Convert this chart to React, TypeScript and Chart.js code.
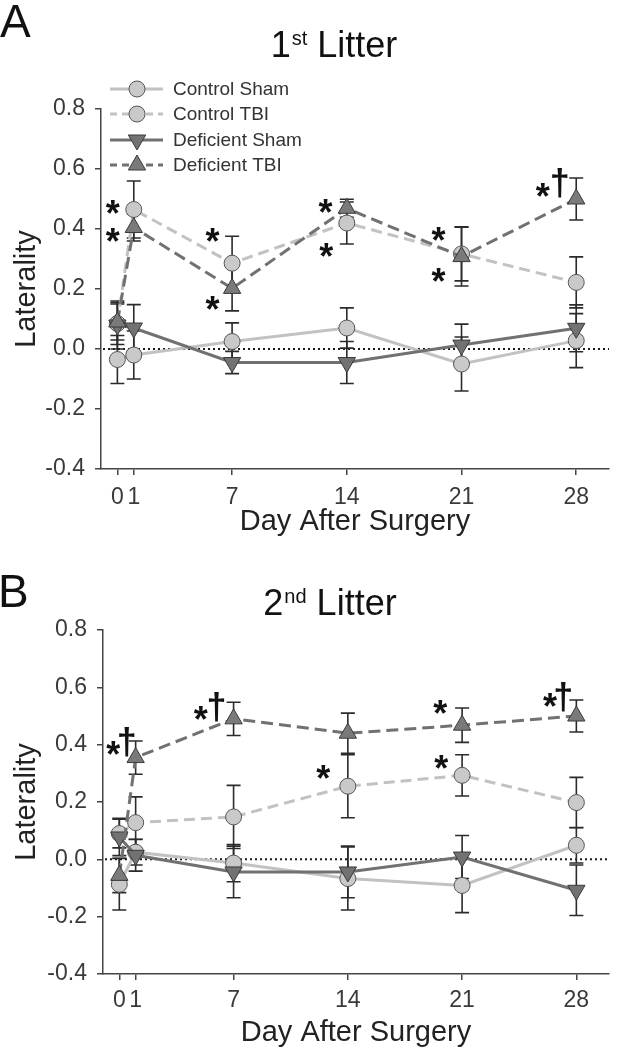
import React, { useEffect, useRef } from 'react';
import { Chart, registerables } from 'chart.js';

Chart.register(...registerables);

// ---------- data ----------
const DAYS = [0, 1, 7, 14, 21, 28];
const X_TICKS = [0, 1, 7, 14, 21, 28];
const Y_MIN = -0.4;
const Y_MAX = 0.8;
const Y_STEP = 0.2;
const SERIES_NAMES = ['Control Sham', 'Control TBI', 'Deficient Sham', 'Deficient TBI'];
const X_TITLE = 'Day After Surgery';
const Y_TITLE = 'Laterality';

// Panel A (1st Litter): mean and SEM
const A_CONTROL_SHAM = [-0.035, -0.02, 0.025, 0.07, -0.05, 0.028];
const A_CONTROL_SHAM_ERR = [0.08, 0.08, 0.062, 0.067, 0.09, 0.09];
const A_CONTROL_TBI = [0.085, 0.465, 0.286, 0.42, 0.317, 0.222];
const A_CONTROL_TBI_ERR = [0.07, 0.095, 0.09, 0.07, 0.09, 0.085];
const A_DEFICIENT_SHAM = [0.08, 0.07, -0.045, -0.045, 0.013, 0.069];
const A_DEFICIENT_SHAM_ERR = [0.08, 0.078, 0.037, 0.07, 0.07, 0.078];
const A_DEFICIENT_TBI = [0.09, 0.405, 0.202, 0.469, 0.308, 0.5];
const A_DEFICIENT_TBI_ERR = [0.06, 0.045, 0.075, 0.03, 0.098, 0.07];
const A_MARKS = [
  { day: -0.29, value: 0.473, text: '*' },
  { day: -0.29, value: 0.38, text: '*' },
  { day: 5.8, value: 0.38, text: '*' },
  { day: 5.8, value: 0.153, text: '*' },
  { day: 12.7, value: 0.477, text: '*' },
  { day: 12.75, value: 0.33, text: '*' },
  { day: 19.6, value: 0.383, text: '*' },
  { day: 19.6, value: 0.247, text: '*' },
  { day: 25.96, value: 0.53, text: '*' },
  { day: 27.0, value: 0.553, text: '†' },
];

// Panel B (2nd Litter): mean and SEM
const B_CONTROL_SHAM = [-0.087, 0.025, -0.013, -0.067, -0.091, 0.049];
const B_CONTROL_SHAM_ERR = [0.09, 0.045, 0.065, 0.11, 0.095, 0.062];
const B_CONTROL_TBI = [0.09, 0.128, 0.148, 0.255, 0.293, 0.198];
const B_CONTROL_TBI_ERR = [0.05, 0.09, 0.11, 0.11, 0.072, 0.088];
const B_DEFICIENT_SHAM = [0.078, 0.014, -0.044, -0.044, 0.008, -0.108];
const B_DEFICIENT_SHAM_ERR = [0.065, 0.055, 0.09, 0.09, 0.075, 0.088];
const B_DEFICIENT_TBI = [-0.056, 0.355, 0.49, 0.44, 0.468, 0.5];
const B_DEFICIENT_TBI_ERR = [0.06, 0.058, 0.058, 0.07, 0.06, 0.056];
const B_MARKS = [
  { day: -0.37, value: 0.387, text: '*' },
  { day: 0.45, value: 0.41, text: '†' },
  { day: 4.99, value: 0.511, text: '*' },
  { day: 5.95, value: 0.532, text: '†' },
  { day: 12.5, value: 0.305, text: '*' },
  { day: 19.66, value: 0.532, text: '*' },
  { day: 19.72, value: 0.34, text: '*' },
  { day: 26.39, value: 0.555, text: '*' },
  { day: 27.2, value: 0.567, text: '†' },
];

// ---------- styles ----------
const FONT = '"Liberation Sans", Arial, Helvetica, sans-serif';
const STYLES = [
  { line: '#c2c2c2', dash: [], legendDash: [], fill: '#c9c9c9', stroke: '#555555', point: 'circle', rotation: 0, radius: 8 },
  { line: '#c2c2c2', dash: [11, 6], legendDash: [7, 5], fill: '#c9c9c9', stroke: '#555555', point: 'circle', rotation: 0, radius: 8 },
  { line: '#717171', dash: [], legendDash: [], fill: '#727272', stroke: '#3a3a3a', point: 'triangle', rotation: 180, radius: 10 },
  { line: '#717171', dash: [12, 6], legendDash: [7, 5], fill: '#7a7a7a', stroke: '#3a3a3a', point: 'triangle', rotation: 0, radius: 10 },
];

const PANEL_A = {
  series: [A_CONTROL_SHAM, A_CONTROL_TBI, A_DEFICIENT_SHAM, A_DEFICIENT_TBI],
  errors: [A_CONTROL_SHAM_ERR, A_CONTROL_TBI_ERR, A_DEFICIENT_SHAM_ERR, A_DEFICIENT_TBI_ERR],
  marks: A_MARKS,
  letter: 'A',
  titleNum: '1',
  titleSup: 'st',
  titleRest: ' Litter',
  legend: true,
  layout: { top: 0, height: 545, padTop: 109, padRight: 5, yWidth: 101, xHeight: 76, tickPad: 9, titlePadBottom: 6, letterX: 0, letterBaseline: 37, titleCenter: 334, titleBaseline: 57 },
};

const PANEL_B = {
  series: [B_CONTROL_SHAM, B_CONTROL_TBI, B_DEFICIENT_SHAM, B_DEFICIENT_TBI],
  errors: [B_CONTROL_SHAM_ERR, B_CONTROL_TBI_ERR, B_DEFICIENT_SHAM_ERR, B_DEFICIENT_TBI_ERR],
  marks: B_MARKS,
  letter: 'B',
  titleNum: '2',
  titleSup: 'nd',
  titleRest: ' Litter',
  legend: false,
  layout: { top: 545, height: 505, padTop: 85, padRight: 10, yWidth: 103, xHeight: 76, tickPad: 7, titlePadBottom: 0, letterX: -2, letterBaseline: 62, titleCenter: 330, titleBaseline: 70 },
};

function drawMarker(ctx: CanvasRenderingContext2D, st: any, cx: number, cy: number) {
  ctx.beginPath();
  if (st.point === 'circle') {
    ctx.arc(cx, cy, st.radius, 0, Math.PI * 2);
  } else {
    const rot = (st.rotation * Math.PI) / 180;
    for (let k = 0; k < 3; k++) {
      const a = rot + (k * 2 * Math.PI) / 3;
      const px = cx + Math.sin(a) * st.radius;
      const py = cy - Math.cos(a) * st.radius;
      if (k === 0) ctx.moveTo(px, py);
      else ctx.lineTo(px, py);
    }
    ctx.closePath();
  }
  ctx.fillStyle = st.fill;
  ctx.fill();
  ctx.lineWidth = 1;
  ctx.strokeStyle = st.stroke;
  ctx.stroke();
}

function makePlugin(panel: any) {
  const L = panel.layout;
  return {
    id: 'panelDecor',
    beforeDatasetsDraw(chart: any) {
      const { ctx, chartArea, scales } = chart;
      const x = scales.x;
      const y = scales.y;
      ctx.save();
      // dotted zero line
      const y0 = y.getPixelForValue(0);
      ctx.strokeStyle = '#1a1a1a';
      ctx.lineWidth = 2;
      ctx.setLineDash([2, 3]);
      ctx.beginPath();
      ctx.moveTo(chartArea.left + 2, y0);
      ctx.lineTo(chartArea.right, y0);
      ctx.stroke();
      ctx.setLineDash([]);
      // error bars
      ctx.strokeStyle = '#2b2b2b';
      ctx.lineWidth = 1.6;
      panel.series.forEach((vals: number[], i: number) => {
        const errs = panel.errors[i];
        vals.forEach((v: number, j: number) => {
          const px = x.getPixelForValue(DAYS[j]);
          const pt = y.getPixelForValue(v + errs[j]);
          const pb = y.getPixelForValue(v - errs[j]);
          ctx.beginPath();
          ctx.moveTo(px, pt);
          ctx.lineTo(px, pb);
          ctx.moveTo(px - 7, pt);
          ctx.lineTo(px + 7, pt);
          ctx.moveTo(px - 7, pb);
          ctx.lineTo(px + 7, pb);
          ctx.stroke();
        });
      });
      ctx.restore();
    },
    afterDraw(chart: any) {
      const { ctx, scales } = chart;
      const x = scales.x;
      const y = scales.y;
      ctx.save();
      // panel letter
      ctx.fillStyle = '#111';
      ctx.textAlign = 'left';
      ctx.textBaseline = 'alphabetic';
      ctx.font = `46px ${FONT}`;
      ctx.fillText(panel.letter, L.letterX, L.letterBaseline);
      // title with superscript
      const big = `36px ${FONT}`;
      const small = `20px ${FONT}`;
      ctx.font = big;
      const w1 = ctx.measureText(panel.titleNum).width;
      const wR = ctx.measureText(panel.titleRest).width;
      ctx.font = small;
      const wS = ctx.measureText(panel.titleSup).width;
      const start = L.titleCenter - (w1 + wS + 1 + wR) / 2;
      ctx.font = big;
      ctx.fillText(panel.titleNum, start, L.titleBaseline);
      ctx.font = small;
      ctx.fillText(panel.titleSup, start + w1 + 1, L.titleBaseline - 12);
      ctx.font = big;
      ctx.fillText(panel.titleRest, start + w1 + 1 + wS, L.titleBaseline);
      // significance marks
      ctx.fillStyle = '#111';
      ctx.textAlign = 'center';
      panel.marks.forEach((m: any) => {
        ctx.font = m.text === '*' ? `bold 36px ${FONT}` : `bold 36px ${FONT}`;
        const mt = ctx.measureText(m.text);
        const px = x.getPixelForValue(m.day);
        const py = y.getPixelForValue(m.value);
        const base = py + (mt.actualBoundingBoxAscent - mt.actualBoundingBoxDescent) / 2;
        ctx.fillText(m.text, px, base);
      });
      // legend
      if (panel.legend) {
        const rows = [89, 114, 140, 165];
        SERIES_NAMES.forEach((name, i) => {
          const st = STYLES[i];
          const yy = rows[i];
          ctx.strokeStyle = st.line;
          ctx.lineWidth = 3;
          ctx.setLineDash(st.legendDash);
          ctx.beginPath();
          ctx.moveTo(110, yy);
          ctx.lineTo(163, yy);
          ctx.stroke();
          ctx.setLineDash([]);
          drawMarker(ctx, st, 137, yy);
          ctx.fillStyle = '#333';
          ctx.font = `19px ${FONT}`;
          ctx.textAlign = 'left';
          ctx.textBaseline = 'middle';
          ctx.fillText(name, 173, yy + 1);
        });
      }
      ctx.restore();
    },
  };
}

function buildConfig(panel: any): any {
  const L = panel.layout;
  const datasets = panel.series.map((vals: number[], i: number) => {
    const st = STYLES[i];
    return {
      label: SERIES_NAMES[i],
      data: DAYS.map((d, j) => ({ x: d, y: vals[j] })),
      borderColor: st.line,
      borderWidth: 3,
      borderDash: st.dash,
      pointStyle: st.point,
      pointRotation: st.rotation,
      pointRadius: st.radius,
      pointBackgroundColor: st.fill,
      pointBorderColor: st.stroke,
      pointBorderWidth: 1,
      tension: 0,
      fill: false,
      order: 4 - i,
    };
  });
  return {
    type: 'line',
    data: { datasets },
    plugins: [makePlugin(panel)],
    options: {
      responsive: false,
      animation: false,
      events: [],
      devicePixelRatio: 1,
      layout: { padding: { top: L.padTop, right: L.padRight, left: 0, bottom: 0 } },
      plugins: { legend: { display: false }, tooltip: { enabled: false }, title: { display: false } },
      scales: {
        x: {
          type: 'linear',
          min: -1,
          max: 30,
          afterBuildTicks: (axis: any) => {
            axis.ticks = X_TICKS.map((v) => ({ value: v }));
          },
          afterFit: (s: any) => {
            s.height = L.xHeight;
          },
          grid: { display: true, drawOnChartArea: false, drawTicks: true, tickLength: 6, color: '#444', lineWidth: 1.5 },
          border: { display: true, color: '#444', width: 1.5 },
          ticks: {
            autoSkip: false,
            maxRotation: 0,
            padding: L.tickPad,
            color: '#3a3a3a',
            font: { family: FONT, size: 23 },
            callback: (v: any) => String(v),
          },
          title: {
            display: true,
            text: X_TITLE,
            color: '#222',
            font: { family: FONT, size: 29 },
            padding: { top: 0, bottom: L.titlePadBottom },
          },
        },
        y: {
          type: 'linear',
          min: Y_MIN,
          max: Y_MAX,
          afterFit: (s: any) => {
            s.width = L.yWidth;
          },
          grid: { display: true, drawOnChartArea: false, drawTicks: true, tickLength: 6, color: '#444', lineWidth: 1.5 },
          border: { display: true, color: '#444', width: 1.5 },
          ticks: {
            stepSize: Y_STEP,
            padding: 10,
            color: '#3a3a3a',
            font: { family: FONT, size: 23 },
            callback: (v: any) => (Math.abs(v) < 1e-9 ? '0.0' : Number(v).toFixed(1)),
          },
          title: {
            display: true,
            text: Y_TITLE,
            color: '#222',
            font: { family: FONT, size: 29 },
            padding: { top: 10, bottom: 0 },
          },
        },
      },
    },
  };
}

function Panel({ panel }: { panel: any }) {
  const ref = useRef<HTMLCanvasElement>(null);
  useEffect(() => {
    if (!ref.current) return;
    const chart = new Chart(ref.current, buildConfig(panel));
    return () => chart.destroy();
  }, [panel]);
  const L = panel.layout;
  return (
    <canvas
      ref={ref}
      width={620}
      height={L.height}
      style={{ position: 'absolute', left: 0, top: L.top, width: 620, height: L.height, display: 'block' }}
    />
  );
}

export default function App() {
  return (
    <div style={{ position: 'absolute', left: 0, top: 0, width: 620, height: 1050, background: '#ffffff', overflow: 'hidden' }}>
      <Panel panel={PANEL_A} />
      <Panel panel={PANEL_B} />
    </div>
  );
}
